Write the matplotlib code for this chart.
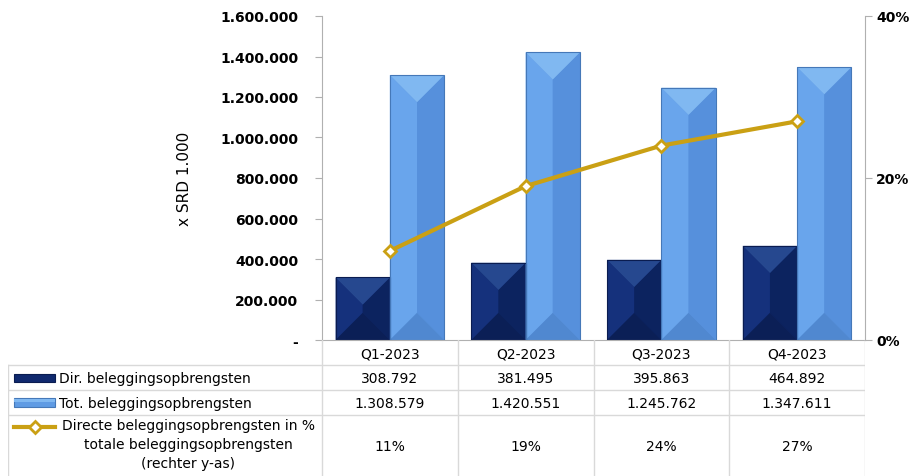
import numpy as np
import matplotlib
matplotlib.use("Agg")
import matplotlib.pyplot as plt
from matplotlib.patches import Polygon, Rectangle
from matplotlib.lines import Line2D

# data
quarters = ["Q1-2023", "Q2-2023", "Q3-2023", "Q4-2023"]
direct = [308792, 381495, 395863, 464892]
total = [1308579, 1420551, 1245762, 1347611]
pct = [0.11, 0.19, 0.24, 0.27]
direct_lbl = ["308.792", "381.495", "395.863", "464.892"]
total_lbl = ["1.308.579", "1.420.551", "1.245.762", "1.347.611"]
pct_lbl = ["11%", "19%", "24%", "27%"]
series_names = ["Dir. beleggingsopbrengsten",
                "Tot. beleggingsopbrengsten",
                "Directe beleggingsopbrengsten in %\ntotale beleggingsopbrengsten\n(rechter y-as)"]
yticks_left = [0, 200000, 400000, 600000, 800000, 1000000, 1200000, 1400000, 1600000]
yticks_right = [0, 0.2, 0.4]

W, H = 922, 477
DARK = dict(face="#10296e", left="#15317c", right="#0c235f", top="#26488f", bottom="#0b1f56", edge="#0a1c50")
LIGHT = dict(face="#5f9be4", left="#69a5ec", right="#5690dc", top="#80b8f1", bottom="#5088d0", edge="#4578b8")
GOLD = "#caa014"
GRID = "#d9d9d9"

fig = plt.figure(figsize=(W / 100, H / 100), dpi=100)
px = lambda x: x / W
py = lambda y: 1 - y / H

ax = fig.add_axes([px(322), py(341), px(865) - px(322), py(17) - py(341)])
ax.set_xlim(-0.5, 3.5)
ax.set_ylim(0, 1600000)

bw = 0.4
ax_h_px = 341 - 17
ax_w_px = 865 - 322
bevel = (bw * ax_w_px / 4.0) / 2 * 1600000 / ax_h_px


def bevel_bar(ax, xc, h, col):
    x0, x1 = xc - bw / 2, xc + bw / 2
    d = min(bevel, h / 2)
    ax.add_patch(Rectangle((x0, 0), bw, h, facecolor=col["face"], edgecolor="none", zorder=2))
    ax.add_patch(Polygon([(x0, 0), (x0, h), (xc, h - d), (xc, d)], closed=True,
                         facecolor=col["left"], edgecolor="none", zorder=2))
    ax.add_patch(Polygon([(x1, 0), (x1, h), (xc, h - d), (xc, d)], closed=True,
                         facecolor=col["right"], edgecolor="none", zorder=2))
    ax.add_patch(Polygon([(x0, h), (x1, h), (xc, h - d)], closed=True,
                         facecolor=col["top"], edgecolor="none", zorder=2))
    ax.add_patch(Polygon([(x0, 0), (x1, 0), (xc, d)], closed=True,
                         facecolor=col["bottom"], edgecolor="none", zorder=2))
    ax.add_patch(Rectangle((x0, 0), bw, h, facecolor="none", edgecolor=col["edge"], lw=0.8, zorder=3))


x = np.arange(len(quarters))
for i in range(len(quarters)):
    bevel_bar(ax, x[i] - bw / 2, direct[i], DARK)
    bevel_bar(ax, x[i] + bw / 2, total[i], LIGHT)

ax.set_yticks(yticks_left)
ax.set_yticklabels(["-" if v == 0 else f"{v:,}".replace(",", ".") for v in yticks_left],
                   fontsize=10, fontweight="bold")
ax.set_xticks([])
ax.tick_params(axis="y", direction="out", length=5, color="#b0b0b0", pad=12)
for s in ["top", "right"]:
    ax.spines[s].set_visible(False)
ax.spines["left"].set_color("#b0b0b0")
ax.spines["bottom"].set_color("#b0b0b0")
ax.set_ylabel("x SRD 1.000", fontsize=11, labelpad=20)

ax2 = ax.twinx()
ax2.set_ylim(0, 0.4)
ax2.plot(x, pct, color=GOLD, lw=3, marker="D", ms=6, mfc="white", mec=GOLD, mew=2, zorder=5)
ax2.set_yticks(yticks_right)
ax2.set_yticklabels([f"{int(v * 100)}%" for v in yticks_right], fontsize=10, fontweight="bold")
ax2.tick_params(axis="y", direction="out", length=5, color="#b0b0b0", pad=3)
for s in ["top", "left", "bottom"]:
    ax2.spines[s].set_visible(False)
ax2.spines["right"].set_color("#b0b0b0")

# data table
tab = fig.add_axes([px(8), 0, px(865) - px(8), py(341)])
tab.set_xlim(-0.5 - (322 - 8) / (ax_w_px / 4.0), 3.5)
tab.set_ylim(H, 341)
tab.axis("off")
xl = tab.get_xlim()[0]

for b in np.arange(-0.5, 4.0, 1.0):
    tab.plot([b, b], [341, H], color=GRID, lw=1)
for yy in [366, 391, 416]:
    tab.plot([xl, 3.5], [yy, yy], color=GRID, lw=1)
tab.plot([xl, xl], [366, H], color=GRID, lw=1)

fs = 10
for i in range(len(quarters)):
    tab.text(x[i], 354, quarters[i], ha="center", va="center", fontsize=fs)
    tab.text(x[i], 379, direct_lbl[i], ha="center", va="center", fontsize=fs)
    tab.text(x[i], 404, total_lbl[i], ha="center", va="center", fontsize=fs)
    tab.text(x[i], 447, pct_lbl[i], ha="center", va="center", fontsize=fs)

# legend keys in first column
ux = ax_w_px / 4.0
kx0 = xl + (14 - 8) / ux
kx1 = xl + (55 - 8) / ux
tab.add_patch(Rectangle((kx0, 375), kx1 - kx0, 8, facecolor=DARK["face"], edgecolor=DARK["edge"], lw=0.8))
tab.add_patch(Rectangle((kx0, 399), kx1 - kx0, 9, facecolor=LIGHT["face"], edgecolor=LIGHT["edge"], lw=0.8))
tab.add_patch(Rectangle((kx0, 400), kx1 - kx0, 3, facecolor=LIGHT["top"], edgecolor="none"))
tab.add_line(Line2D([kx0, kx1], [428, 428], color=GOLD, lw=3))
tab.plot([(kx0 + kx1) / 2], [428], marker="D", ms=6, mfc="white", mec=GOLD, mew=2)

tx = xl + (59 - 8) / ux
tab.text(tx, 379, series_names[0], ha="left", va="center", fontsize=fs)
tab.text(tx, 404, series_names[1], ha="left", va="center", fontsize=fs)
tab.text(xl + (188 - 8) / ux, 419, series_names[2], ha="center", va="top",
         fontsize=fs, multialignment="center", linespacing=1.45)

fig.savefig("out.png", dpi=100)
